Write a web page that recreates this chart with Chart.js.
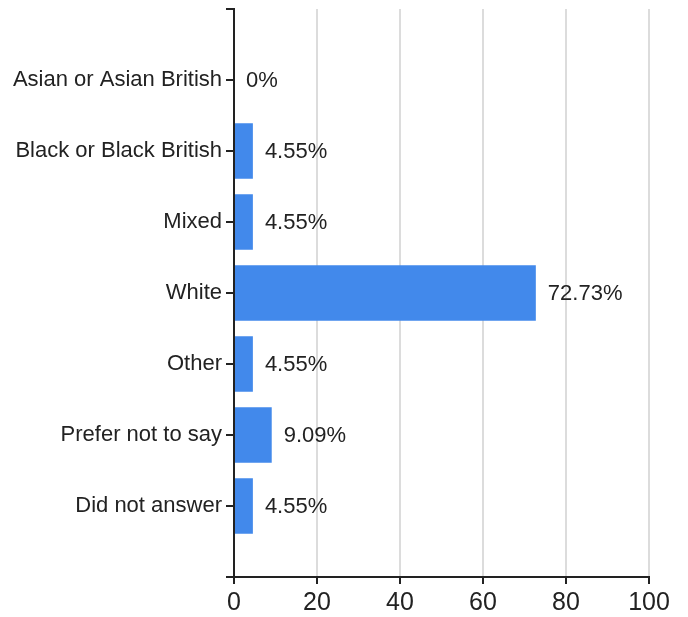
<!DOCTYPE html>
<html>
<head>
<meta charset="utf-8">
<script src="https://cdn.jsdelivr.net/npm/chart.js@4/dist/chart.umd.min.js"></script>
<style>
  body { margin: 0; background: #fff; }
</style>
</head>
<body>
<canvas id="myChart" width="688" height="617"></canvas>
<script>
var categories = ['Asian or Asian British', 'Black or Black British', 'Mixed', 'White', 'Other', 'Prefer not to say', 'Did not answer'];
var percentages = [0, 4.55, 4.55, 72.73, 4.55, 9.09, 4.55];
var xTicks = [0, 20, 40, 60, 80, 100];

// empty slot top and bottom, so the axis has a gap each end
var labels = [''].concat(categories, ['']);
var values = [null].concat(percentages, [null]);

var font = 'Liberation Sans, Arial, sans-serif';

var valueLabels = {
  id: 'valueLabels',
  afterDatasetsDraw: function (chart) {
    var ctx = chart.ctx;
    var meta = chart.getDatasetMeta(0);
    ctx.save();
    ctx.font = '22px ' + font;
    ctx.fillStyle = '#222';
    ctx.textAlign = 'left';
    ctx.textBaseline = 'middle';
    meta.data.forEach(function (bar, i) {
      var v = values[i];
      if (v === null) return;
      ctx.fillText(v + '%', bar.x + 12, bar.y + 1);
    });
    ctx.restore();
  }
};

var ctx = document.getElementById('myChart').getContext('2d');
new Chart(ctx, {
  type: 'bar',
  data: {
    labels: labels,
    datasets: [{
      data: values,
      backgroundColor: '#4289eb',
      barPercentage: 0.78,
      categoryPercentage: 1
    }]
  },
  options: {
    indexAxis: 'y',
    responsive: false,
    animation: false,
    layout: { padding: { top: 9, right: 39, left: 0, bottom: 0 } },
    plugins: {
      legend: { display: false },
      tooltip: { enabled: false }
    },
    scales: {
      x: {
        min: 0,
        max: 100,
        afterBuildTicks: function (scale) {
          scale.ticks = xTicks.map(function (v) { return { value: v }; });
        },
        afterFit: function (scale) { scale.height = 40; },
        border: { display: true, color: '#222', width: 2 },
        grid: {
          color: function (c) { return c.tick && c.tick.value === 0 ? 'rgba(0,0,0,0)' : '#dcdcdc'; },
          lineWidth: 2,
          tickColor: '#222',
          tickLength: 7,
          drawTicks: true
        },
        ticks: {
          color: '#222',
          font: { family: font, size: 25 },
          padding: 4,
          maxRotation: 0
        }
      },
      y: {
        offset: false,
        afterFit: function (scale) {
          scale.width = 234;
          scale.paddingTop = 0;
          scale.paddingBottom = 0;
        },
        border: { display: true, color: '#222', width: 2 },
        grid: {
          offset: false,
          drawOnChartArea: false,
          drawTicks: true,
          tickLength: 8,
          tickColor: '#222',
          lineWidth: 2
        },
        ticks: {
          color: '#222',
          font: { family: font, size: 22 },
          padding: 4,
          autoSkip: false
        }
      }
    }
  },
  plugins: [valueLabels]
});
</script>
</body>
</html>
